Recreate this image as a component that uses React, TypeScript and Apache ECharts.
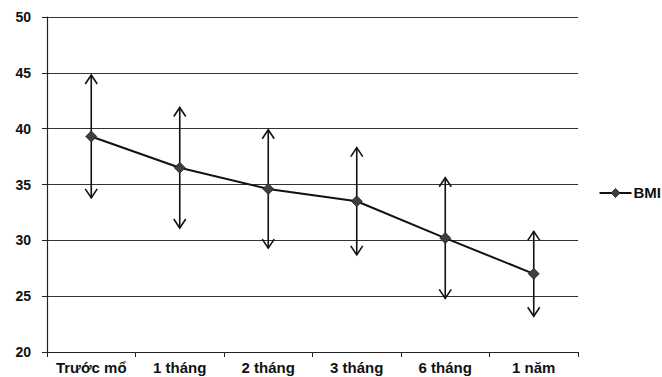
import React, { useEffect, useRef } from "react";
import * as echarts from "echarts";

const categories = ["Trước mổ", "1 tháng", "2 tháng", "3 tháng", "6 tháng", "1 năm"];
const bmiMean = [39.3, 36.5, 34.6, 33.5, 30.2, 27.0];
const bmiSD = [5.5, 5.4, 5.3, 4.8, 5.4, 3.8];
const yTicks = { min: 20, max: 50, interval: 5 };

export default function App() {
  const ref = useRef<HTMLDivElement>(null);
  useEffect(() => {
    if (!ref.current) return;
    const chart = echarts.init(ref.current, null, { renderer: "svg" });
    const errData = bmiMean.map((m, i) => [i, m - bmiSD[i], m + bmiSD[i]]);
    chart.setOption({
      animation: false,
      backgroundColor: "#ffffff",
      textStyle: { fontFamily: "Liberation Sans, Arial, sans-serif" },
      grid: { left: 47, right: 84, top: 17, bottom: 25 },
      xAxis: {
        type: "category",
        data: categories,
        boundaryGap: true,
        axisLine: { lineStyle: { color: "#222", width: 1.2 } },
        axisTick: { show: true, length: 5, lineStyle: { color: "#222" } },
        axisLabel: { color: "#111", fontSize: 15, fontWeight: "bold", margin: 8, interval: 0 },
      },
      yAxis: {
        type: "value",
        min: yTicks.min,
        max: yTicks.max,
        interval: yTicks.interval,
        axisLine: { show: true, lineStyle: { color: "#222", width: 1.2 } },
        axisTick: { show: true, length: 5, lineStyle: { color: "#222" } },
        axisLabel: { color: "#111", fontSize: 14, fontWeight: "bold", margin: 16 },
        splitLine: { show: true, lineStyle: { color: "#333", width: 1 } },
      },
      graphic: [
        {
          type: "group",
          left: 597,
          top: 185,
          children: [
            { type: "line", shape: { x1: 0, y1: 8, x2: 32, y2: 8 }, style: { stroke: "#111", lineWidth: 2 } },
            { type: "polygon", shape: { points: [[16, 3.5], [20.5, 8], [16, 12.5], [11.5, 8]] }, style: { fill: "#3b4236", stroke: "#222", lineWidth: 0.8 } },
            { type: "text", x: 34, y: 0, style: { text: "BMI", fill: "#111", font: "bold 15px Liberation Sans, Arial, sans-serif" } },
          ],
        },
      ],
      series: [
        {
          name: "err",
          type: "custom",
          data: errData,
          z: 1,
          renderItem: (params: any, api: any) => {
            const i = api.value(0);
            const lo = api.coord([i, api.value(1)]);
            const hi = api.coord([i, api.value(2)]);
            const x = lo[0];
            const aw = 6;
            const ah = 9;
            const st = { stroke: "#111", lineWidth: 1.6, fill: "none" };
            return {
              type: "group",
              children: [
                { type: "line", shape: { x1: x, y1: lo[1], x2: x, y2: hi[1] }, style: st },
                { type: "polyline", shape: { points: [[x - aw, hi[1] + ah], [x, hi[1]], [x + aw, hi[1] + ah]] }, style: st },
                { type: "polyline", shape: { points: [[x - aw, lo[1] - ah], [x, lo[1]], [x + aw, lo[1] - ah]] }, style: st },
              ],
            };
          },
        },
        {
          name: "BMI",
          type: "line",
          data: bmiMean,
          z: 3,
          symbol: "diamond",
          symbolSize: 11,
          lineStyle: { color: "#111", width: 2 },
          itemStyle: { color: "#3b4236", borderColor: "#222", borderWidth: 0.8 },
        },
      ],
    });
    return () => chart.dispose();
  }, []);
  return (
    <div
      ref={ref}
      style={{ position: "absolute", left: 0, top: 0, width: 662, height: 377 }}
    />
  );
}
